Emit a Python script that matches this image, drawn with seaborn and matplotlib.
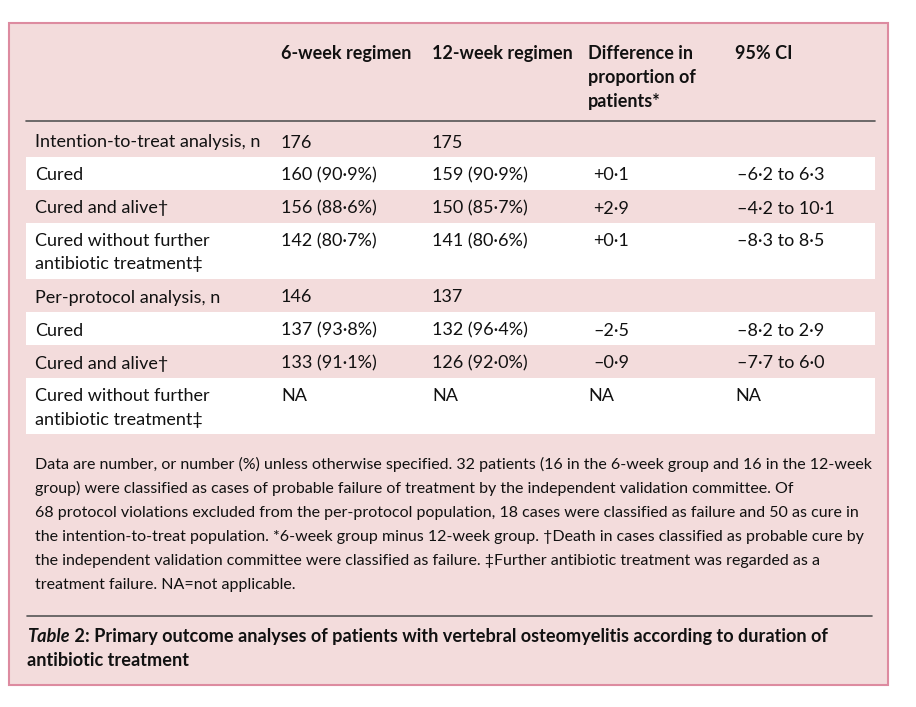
import matplotlib
matplotlib.use("Agg")
import matplotlib.pyplot as plt
import seaborn as sns

# Table 2 data
row_labels = [
    "Intention-to-treat analysis, n",
    "Cured",
    "Cured and alive\u2020",
    "Cured without further\nantibiotic treatment\u2021",
    "Per-protocol analysis, n",
    "Cured",
    "Cured and alive\u2020",
    "Cured without further\nantibiotic treatment\u2021",
]
six_week = ["176", "160 (90\u00b79%)", "156 (88\u00b76%)", "142 (80\u00b77%)",
            "146", "137 (93\u00b78%)", "133 (91\u00b71%)", "NA"]
twelve_week = ["175", "159 (90\u00b79%)", "150 (85\u00b77%)", "141 (80\u00b76%)",
               "137", "132 (96\u00b74%)", "126 (92\u00b70%)", "NA"]
difference = ["", "+0\u00b71", "+2\u00b79", "+0\u00b71",
              "", "\u20132\u00b75", "\u20130\u00b79", "NA"]
ci_95 = ["", "\u20136\u00b72 to 6\u00b73", "\u20134\u00b72 to 10\u00b71", "\u20138\u00b73 to 8\u00b75",
         "", "\u20138\u00b72 to 2\u00b79", "\u20137\u00b77 to 6\u00b70", "NA"]
col_headers = ["6-week regimen", "12-week regimen",
               "Difference in\nproportion of\npatients*", "95% CI"]

footnote = [
    "Data are number, or number (%) unless otherwise specified. 32 patients (16 in the 6-week group and 16 in the 12-week",
    "group) were classified as cases of probable failure of treatment by the independent validation committee. Of",
    "68 protocol violations excluded from the per-protocol population, 18 cases were classified as failure and 50 as cure in",
    "the intention-to-treat population. *6-week group minus 12-week group. \u2020Death in cases classified as probable cure by",
    "the independent validation committee were classified as failure. \u2021Further antibiotic treatment was regarded as a",
    "treatment failure. NA=not applicable.",
]
caption_rest = [" 2: Primary outcome analyses of patients with vertebral osteomyelitis according to duration of",
                "antibiotic treatment"]

sns.set_theme(style="white")
plt.rcParams["font.family"] = ["Lato", "DejaVu Sans"]

pink = "#f3dcdc"
text_col = "#111111"
fs_body = 13
fs_head = 13.0
fs_note = 11.5
fs_cap = 13.1

fig = plt.figure(figsize=(9.16, 7.07), dpi=100)
ax = fig.add_axes([0, 0, 1, 1])
ax.set_xlim(0, 916)
ax.set_ylim(707, 0)
ax.axis("off")

# outer box
ax.add_patch(plt.Rectangle((9, 23), 879, 662, facecolor=pink,
                           edgecolor="#dd8ba0", linewidth=1.5))

col_x = [35, 281, 432, 588, 735]
val_x = [35, 281, 432, 593, 737]

# header
for x, h in zip(col_x[1:], col_headers):
    for j, line in enumerate(h.split("\n")):
        ax.text(x, 59 + j * 24, line, fontsize=fs_head, fontweight="bold",
                color=text_col, va="baseline", ha="left")
ax.plot([26, 875], [121, 121], color="#555555", lw=1.2)

# body rows
top = 121
for i, lab in enumerate(row_labels):
    nlines = lab.count("\n") + 1
    h = 33 if nlines == 1 else 56
    if i == 0:
        h = 36
    bottom = top + h
    if i % 2 == 1:
        ax.barh((top + bottom) / 2, 849, height=h, left=26, color="white", lw=0)
    base = bottom - 9.5 - (nlines - 1) * 23.5
    for j, line in enumerate(lab.split("\n")):
        ax.text(val_x[0], base + j * 23.5, line, fontsize=fs_body, color=text_col,
                va="baseline", ha="left")
    cells = [six_week[i], twelve_week[i], difference[i], ci_95[i]]
    for k, c in enumerate(cells):
        x = val_x[k + 1] if c != "NA" else col_x[k + 1]
        ax.text(x, base, c, fontsize=fs_body, color=text_col, va="baseline", ha="left")
    top = bottom

# footnote
for j, line in enumerate(footnote):
    ax.text(35, 469 + j * 24, line, fontsize=fs_note, color=text_col, va="baseline", ha="left")

ax.plot([27, 872], [616, 616], color="#555555", lw=1.2)

# caption
t = ax.text(27, 642, "Table", fontsize=fs_cap, fontweight="bold", style="italic",
            color=text_col, va="baseline", ha="left")
fig.canvas.draw()
bb = t.get_window_extent()
x_end = ax.transData.inverted().transform((bb.x1, 0))[0]
ax.text(x_end, 642, caption_rest[0], fontsize=fs_cap, fontweight="bold",
        color=text_col, va="baseline", ha="left")
ax.text(27, 666, caption_rest[1], fontsize=fs_cap, fontweight="bold",
        color=text_col, va="baseline", ha="left")

fig.savefig("out.png", dpi=100, facecolor="white")
